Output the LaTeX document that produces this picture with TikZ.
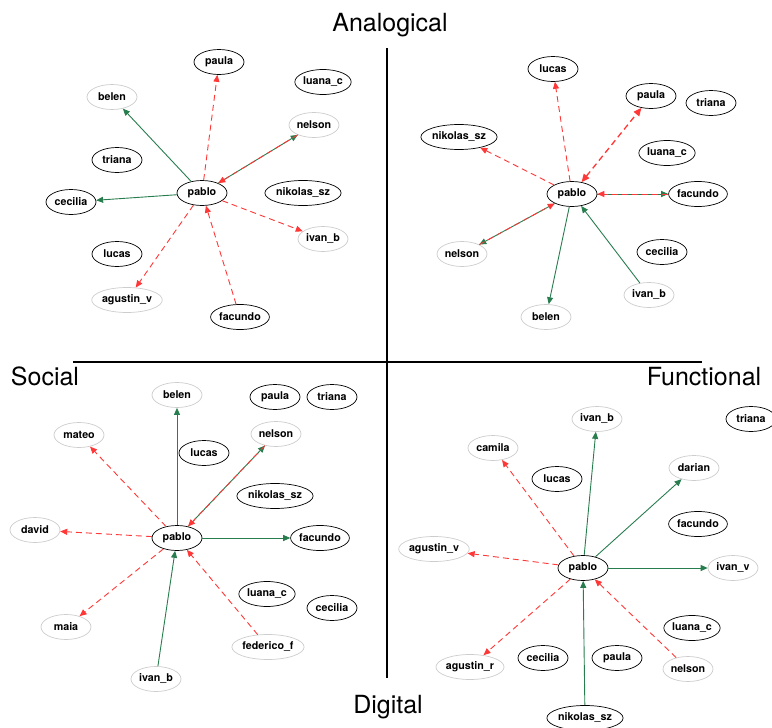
\documentclass[tikz,border=0pt]{standalone}
\usepackage{fontspec}
\setmainfont{TeX Gyre Heros}
\usetikzlibrary{arrows.meta,shapes.geometric}

\definecolor{linkgreen}{RGB}{40,125,78}
\definecolor{linkred}{RGB}{255,55,55}
\definecolor{softgray}{RGB}{205,205,205}

\tikzset{
    person/.style={ellipse, draw=black, line width=0.7pt, inner sep=0pt, minimum width=50pt, minimum height=25pt, font=\fontsize{10.7}{12}\selectfont\bfseries},
    contact/.style={person, draw=softgray},
    axislabel/.style={anchor=base, font=\fontsize{25}{30}\selectfont},
    tie/.style={linkgreen, line width=0.9pt, -{Triangle[length=7pt, width=6pt]}},
    hint/.style={linkred, line width=0.9pt, dash pattern=on 6pt off 4pt, -{Triangle[length=7pt, width=6pt]}}
}

\begin{document}
\begin{tikzpicture}[x=1pt, y=-1pt]
        \useasboundingbox (0, 0) rectangle (772, 728);

        \draw [line width=1.4pt] (387, 48) -- (387, 678);
        \draw [line width=1.4pt] (73, 362) -- (702, 362);
        \node [axislabel] (analogical) at (390, 31) {Analogical};
        \node [axislabel] (social) at (45, 385) {Social};
        \node [axislabel] (functional) at (704, 385) {Functional};
        \node [axislabel] (digital) at (388, 713) {Digital};

        \node [person] (aspaula) at (219, 62) {paula};
        \node [person] (asluana) at (323, 82) {luana\_c};
        \node [contact] (asbelen) at (112, 97) {belen};
        \node [contact] (asnelson) at (314, 125) {nelson};
        \node [person] (astriana) at (117, 160) {triana};
        \node [person] (aspablo) at (202, 193) {pablo};
        \node [person] (ascecilia) at (71, 202) {cecilia};
        \node [person] (asnikolas) at (303, 193) {nikolas\_sz};
        \node [contact] (asivan) at (323, 239) {ivan\_b};
        \node [person] (aslucas) at (117, 254) {lucas};
        \node [contact] (asagustin) at (127, 300) {agustin\_v};
        \node [person] (asfacundo) at (240, 317) {facundo};

        \draw [tie] (aspablo) -- (asbelen);
        \draw [tie] (aspablo) -- (ascecilia);
        \draw [hint] (aspablo) -- (aspaula);
        \draw [tie] (aspablo) -- (asnelson);
        \draw [hint] (asnelson) -- (aspablo);
        \draw [hint] (aspablo) -- (asivan);
        \draw [hint] (aspablo) -- (asagustin);
        \draw [hint] (asfacundo) -- (aspablo);

        \node [person] (aflucas) at (553, 69) {lucas};
        \node [person] (afpaula) at (651, 96) {paula};
        \node [person] (aftriana) at (711, 103) {triana};
        \node [person] (afnikolas) at (459, 137) {nikolas\_sz};
        \node [person] (afluana) at (667, 153) {luana\_c};
        \node [person] (afpablo) at (572, 194) {pablo};
        \node [person] (affacundo) at (698, 194) {facundo};
        \node [contact] (afnelson) at (462, 254) {nelson};
        \node [person] (afcecilia) at (662, 252) {cecilia};
        \node [contact] (afivan) at (649, 295) {ivan\_b};
        \node [contact] (afbelen) at (546, 317) {belen};

        \draw [hint] (afpablo) -- (aflucas);
        \draw [hint, line width=1.3pt, {Triangle[length=8pt, width=7pt]}-{Triangle[length=8pt, width=7pt]}] (afpablo) -- (afpaula);
        \draw [hint] (afpablo) -- (afnikolas);
        \draw [tie] (afpablo) -- (affacundo);
        \draw [hint] (affacundo) -- (afpablo);
        \draw [tie] (afpablo) -- (afnelson);
        \draw [hint] (afnelson) -- (afpablo);
        \draw [tie] (afpablo) -- (afbelen);
        \draw [tie] (afivan) -- (afpablo);

        \node [contact] (dsbelen) at (177, 395) {belen};
        \node [person] (dspaula) at (275, 397) {paula};
        \node [person] (dstriana) at (332, 397) {triana};
        \node [contact] (dsmateo) at (79, 435) {mateo};
        \node [contact] (dsnelson) at (276, 434) {nelson};
        \node [person] (dslucas) at (204, 453) {lucas};
        \node [person] (dsnikolas) at (275, 496) {nikolas\_sz};
        \node [contact] (dsdavid) at (35, 530) {david};
        \node [person] (dspablo) at (177, 538) {pablo};
        \node [person] (dsfacundo) at (320, 538) {facundo};
        \node [person] (dsluana) at (267, 594) {luana\_c};
        \node [person] (dscecilia) at (332, 608) {cecilia};
        \node [contact] (dsmaia) at (66, 627) {maia};
        \node [contact] (dsfederico) at (268, 647) {federico\_f};
        \node [contact] (dsivan) at (156, 679) {ivan\_b};

        \draw [tie] (dspablo) -- (dsbelen);
        \draw [hint] (dspablo) -- (dsmateo);
        \draw [tie] (dspablo) -- (dsnelson);
        \draw [hint] (dsnelson) -- (dspablo);
        \draw [hint] (dspablo) -- (dsdavid);
        \draw [tie] (dspablo) -- (dsfacundo);
        \draw [hint] (dspablo) -- (dsmaia);
        \draw [tie] (dsivan) -- (dspablo);
        \draw [hint] (dsfederico) -- (dspablo);

        \node [contact] (dfivanb) at (597, 419) {ivan\_b};
        \node [person] (dftriana) at (751, 419) {triana};
        \node [contact] (dfcamila) at (493, 448) {camila};
        \node [contact] (dfdarian) at (694, 468) {darian};
        \node [person] (dflucas) at (557, 479) {lucas};
        \node [person] (dffacundo) at (698, 524) {facundo};
        \node [contact] (dfagustinv) at (434, 549) {agustin\_v};
        \node [person] (dfpablo) at (583, 568) {pablo};
        \node [contact] (dfivanv) at (733, 568) {ivan\_v};
        \node [person] (dfluana) at (692, 628) {luana\_c};
        \node [person] (dfcecilia) at (543, 658) {cecilia};
        \node [person] (dfpaula) at (617, 658) {paula};
        \node [contact] (dfagustinr) at (470, 667) {agustin\_r};
        \node [contact] (dfnelson) at (688, 669) {nelson};
        \node [person] (dfnikolas) at (585, 718) {nikolas\_sz};

        \draw [tie] (dfpablo) -- (dfivanb);
        \draw [hint] (dfpablo) -- (dfcamila);
        \draw [tie] (dfpablo) -- (dfdarian);
        \draw [hint] (dfpablo) -- (dfagustinv);
        \draw [tie] (dfpablo) -- (dfivanv);
        \draw [hint] (dfpablo) -- (dfagustinr);
        \draw [tie] (dfnikolas) -- (dfpablo);
        \draw [hint] (dfnelson) -- (dfpablo);
    \end{tikzpicture}
\end{document}
